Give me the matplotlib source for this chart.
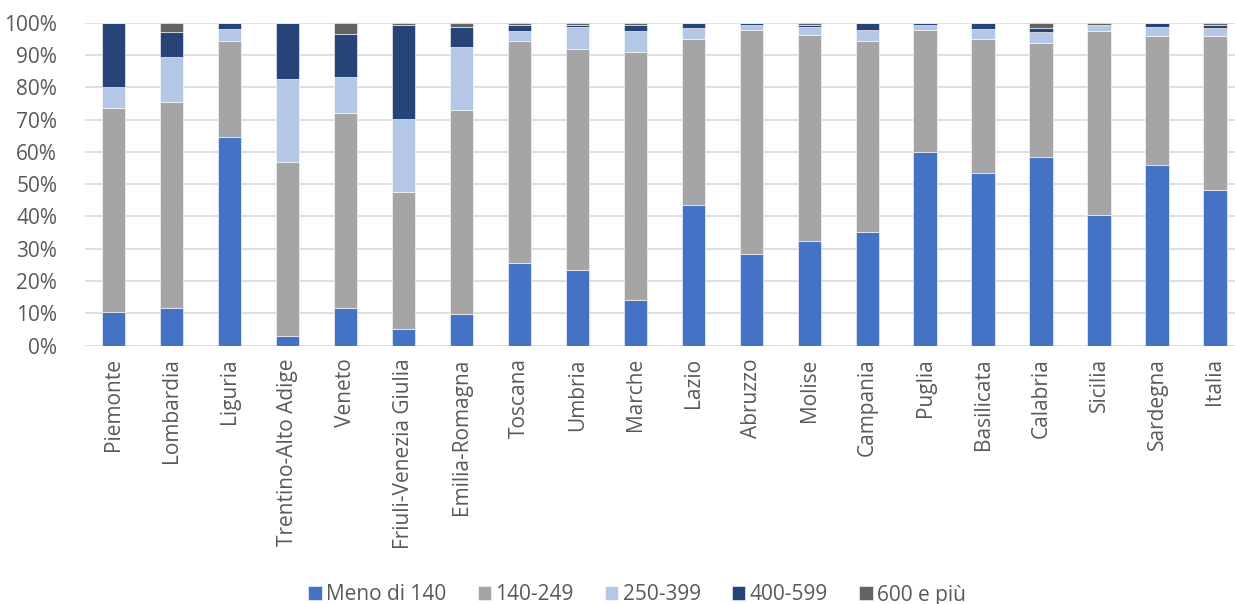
import numpy as np
import matplotlib.pyplot as plt

plt.rcParams['font.family'] = ['Open Sans', 'DejaVu Sans']

regioni = ['Piemonte', 'Lombardia', 'Liguria', 'Trentino-Alto Adige', 'Veneto',
           'Friuli-Venezia Giulia', 'Emilia-Romagna', 'Toscana', 'Umbria', 'Marche',
           'Lazio', 'Abruzzo', 'Molise', 'Campania', 'Puglia', 'Basilicata',
           'Calabria', 'Sicilia', 'Sardegna', 'Italia']

classi = ['Meno di 140', '140-249', '250-399', '400-599', '600 e più']

meno_140 = [10.5, 11.8, 64.7, 3.1, 11.8, 5.1, 9.9, 25.5, 23.4, 14.2,
            43.7, 28.4, 32.3, 35.3, 60.1, 53.4, 58.4, 40.4, 56.0, 48.3]
da_140_249 = [63.2, 63.7, 29.6, 53.9, 60.3, 42.5, 63.1, 68.9, 68.5, 76.7,
              51.3, 69.3, 63.9, 59.1, 37.7, 41.6, 35.4, 57.1, 40.0, 47.7]
da_250_399 = [6.5, 13.8, 3.8, 25.5, 11.0, 22.5, 19.6, 3.1, 6.9, 6.6,
              3.5, 1.6, 2.6, 3.2, 1.4, 3.1, 3.4, 1.4, 2.8, 2.3]
da_400_599 = [19.8, 7.9, 1.9, 17.5, 13.4, 29.2, 6.2, 1.9, 0.6, 1.7,
              1.3, 0.7, 0.4, 2.4, 0.6, 1.9, 1.1, 0.4, 1.2, 1.0]
oltre_600 = [0.0, 2.8, 0.0, 0.0, 3.5, 0.7, 1.2, 0.6, 0.6, 0.8,
             0.2, 0.0, 0.8, 0.0, 0.2, 0.0, 1.7, 0.7, 0.0, 0.7]

colori = ['#4472C4', '#A5A5A5', '#B4C7E7', '#264478', '#636363']

serie = np.array([meno_140, da_140_249, da_250_399, da_400_599, oltre_600]) / 100.0
serie = serie / serie.sum(axis=0)

fig = plt.figure(figsize=(12.35, 6.04), dpi=100)
ax = fig.add_axes([85 / 1235, 1 - 345.7 / 604, (1237 - 85) / 1235, (345.7 - 22.7) / 604])

x = np.arange(len(regioni))
base = np.zeros(len(regioni))
for vals, nome, col in zip(serie, classi, colori):
    ax.bar(x, vals, 0.4, bottom=base, color=col, label=nome,
           edgecolor='white', linewidth=0.4, zorder=3)
    base += vals

ax.set_xlim(-0.49, 19.38)
ax.set_ylim(0, 1)
ax.set_yticks(np.arange(0, 1.01, 0.1))
ax.set_yticklabels([f'{int(round(v * 100))}%' for v in np.arange(0, 1.01, 0.1)])
ax.set_xticks(x)
ax.set_xticklabels(regioni, rotation=90)
ax.tick_params(length=0, labelsize=15, colors='#595959', pad=9)
ax.tick_params(axis='y', pad=20)
ax.grid(axis='y', color='#D9D9D9', linewidth=1.2, zorder=0)
for s in ax.spines.values():
    s.set_visible(False)

leg = fig.legend(loc='center', bbox_to_anchor=(637 / 1235, 1 - 595 / 604), ncol=5,
                 frameon=False, fontsize=15, handlelength=0.65, handleheight=0.65,
                 handletextpad=0.2, columnspacing=1.5)
for t in leg.get_texts():
    t.set_color('#595959')

fig.savefig('out.png', dpi=100)
